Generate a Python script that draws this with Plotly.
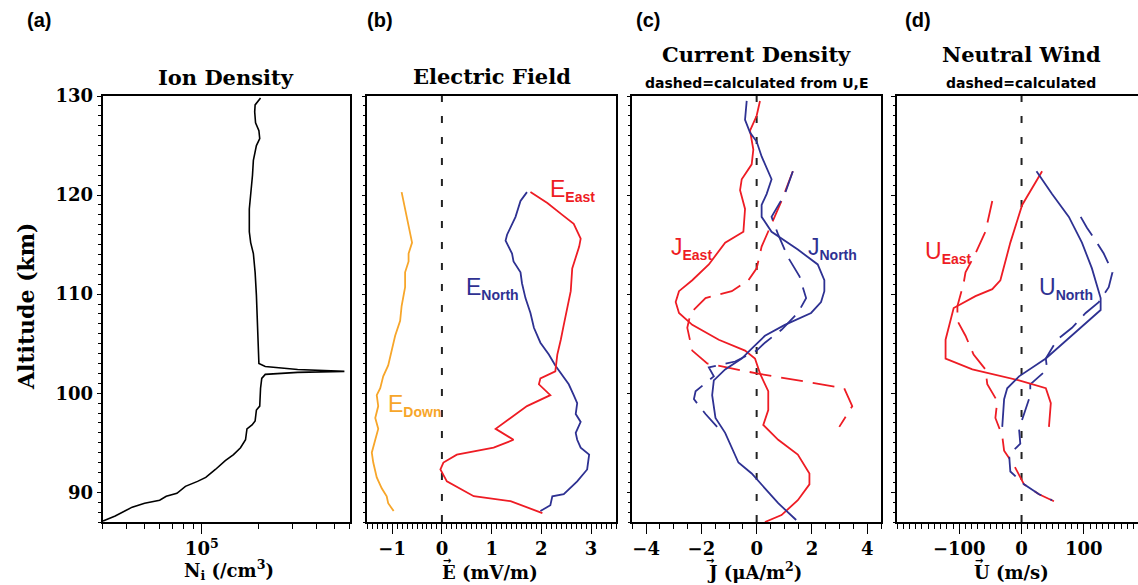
import plotly.graph_objects as go

# ---------------- DATA ----------------
# (a) Ion density
ni_alt = [129.8, 129.1, 128.4, 127.3, 126.5, 125.7, 125.0, 124.2, 123.5, 122.0, 120.1, 118.6, 116.3,
          115.2, 114.1, 112.2, 109.9, 105.8, 103.0, 102.7, 102.4, 102.2, 102.1, 101.9, 101.5, 100.5,
          98.7, 98.3, 97.2, 96.8, 96.4, 95.3, 94.5, 93.8, 93.2, 92.3, 91.5, 91.1, 90.6, 89.9, 89.6,
          89.2, 88.9, 88.5, 88.0, 87.6, 87.1]
ni_val = [2.04e5, 1.91e5, 1.90e5, 1.92e5, 2.00e5, 2.02e5, 1.94e5, 1.91e5, 1.87e5, 1.85e5, 1.81e5, 1.78e5, 1.78e5,
          1.81e5, 1.87e5, 1.91e5, 1.94e5, 1.98e5, 2.00e5, 2.16e5, 3.2e5, 5.64e5, 3.2e5, 2.16e5, 2.07e5, 2.04e5,
          2.02e5, 1.94e5, 1.91e5, 1.84e5, 1.73e5, 1.70e5, 1.60e5, 1.47e5, 1.33e5, 1.18e5, 1.05e5, 9.5e4, 8.2e4, 7.4e4, 6.5e4,
          6.0e4, 5.0e4, 4.3e4, 3.85e4, 3.5e4, 3.02e4]

# (b) Electric field (mV/m)
edown_alt = [120.3, 118.6, 116.7, 115.2, 114.1, 113.3, 112.2, 110.7, 108.8, 107.3, 105.8, 104.3, 102.8, 101.7,
             100.5, 99.8, 98.7, 97.5, 96.4, 95.3, 94.0, 93.0, 91.5, 90.4, 89.6, 88.9, 88.1]
edown_val = [-0.81, -0.74, -0.67, -0.60, -0.67, -0.67, -0.74, -0.74, -0.81, -0.84, -0.94, -1.01, -1.08, -1.18,
             -1.24, -1.31, -1.28, -1.34, -1.28, -1.34, -1.41, -1.38, -1.31, -1.21, -1.11, -1.08, -0.97]
enorth_alt = [120.3, 119.4, 117.8, 116.0, 115.4, 114.1, 113.3, 112.2, 111.1, 109.6, 108.1, 106.6, 105.1, 103.9,
              102.8, 102.0, 100.9, 99.8, 99.0, 97.9, 97.1, 96.0, 95.3, 94.5, 93.8, 92.3, 91.1, 89.8, 89.6, 88.7, 88.1]
enorth_val = [1.71, 1.58, 1.48, 1.31, 1.28, 1.41, 1.44, 1.58, 1.61, 1.68, 1.78, 1.85, 1.98, 2.15,
              2.28, 2.39, 2.55, 2.65, 2.72, 2.69, 2.79, 2.69, 2.72, 2.79, 2.96, 2.92, 2.72, 2.45, 2.22, 2.18, 1.98]
eeast_alt = [120.3, 119.2, 118.0, 117.1, 115.6, 114.8, 113.7, 112.6, 110.3, 108.4, 106.9, 105.4, 103.9, 102.2,
             101.5, 100.9, 99.8, 98.7, 97.5, 96.4, 95.3, 94.5, 93.8, 93.0, 92.3, 91.1, 89.6, 89.1, 87.9]
eeast_val = [1.78, 2.12, 2.42, 2.65, 2.79, 2.76, 2.69, 2.62, 2.59, 2.52, 2.45, 2.39, 2.32, 2.28,
             1.98, 1.95, 2.18, 1.71, 1.38, 1.08, 1.44, 1.04, 0.30, 0.03, -0.03, 0.10, 0.64, 1.38, 2.02]

# (c) Current density (uA/m^2)
jeast_alt = [129.5, 128.0, 126.5, 124.6, 123.1, 121.6, 120.5, 118.6, 116.3, 115.2, 113.0, 111.4, 110.3, 109.2,
             108.1, 106.9, 105.4, 104.3, 103.5, 102.0, 100.2, 98.3, 96.8, 95.3, 93.8, 91.9, 90.8, 89.2, 87.7, 87.0]
jeast_val = [0.12, 0.0, -0.24, -0.12, -0.18, -0.54, -0.60, -0.42, -0.48, -1.14, -1.73, -2.33, -2.81, -2.93,
             -2.81, -2.33, -1.37, -0.42, -0.06, 0.12, 0.42, 0.42, 0.24, 0.78, 1.49, 1.91, 1.91, 1.49, 0.90, 0.30]
jnorth_alt = [129.5, 127.6, 126.3, 125.4, 123.9, 122.4, 121.6, 120.1, 119.0, 117.8, 116.3, 114.5, 113.0, 111.4,
              110.3, 109.2, 108.1, 106.9, 105.8, 104.5, 103.5, 102.4, 101.3, 99.8, 97.5, 96.0, 94.5, 93.0, 91.9,
              90.8, 88.9, 87.2]
jnorth_val = [-0.36, -0.42, -0.24, 0.0, 0.18, 0.42, 0.54, 0.36, 0.18, 0.18, 0.54, 1.49, 2.21, 2.45,
              2.45, 2.33, 1.97, 1.02, 0.30, -0.18, -0.54, -1.14, -1.55, -1.61, -1.49, -1.14, -0.90, -0.66, -0.18,
              0.18, 0.78, 1.43]
jeast_calc_alt = [122.4, 119.4, 117.1, 114.8, 112.6, 111.4, 110.3, 109.6, 108.1, 106.6, 104.3, 103.0, 102.0,
                  100.5, 98.7, 96.6]
jeast_calc_val = [1.31, 0.90, 0.54, 0.18, 0.0, -0.30, -0.90, -1.85, -2.39, -2.51, -2.33, -1.79, 0.0,
                  3.17, 3.46, 2.99]
jnorth_calc_alt = [122.4, 120.1, 117.8, 116.0, 113.7, 111.8, 109.6, 108.1, 106.4, 105.1, 104.3, 103.2, 102.6,
                   101.7, 100.2, 99.4, 97.9, 96.6]
jnorth_calc_val = [1.31, 1.02, 0.54, 0.78, 1.14, 1.55, 1.79, 1.49, 0.90, 0.30, 0.0, -0.78, -1.73,
                   -1.55, -2.21, -2.27, -1.85, -1.43]

# (d) Neutral wind (m/s)
ueast_alt = [122.4, 119.0, 115.2, 111.4, 110.5, 109.8, 108.6, 105.4, 103.5, 102.4, 101.3, 100.5, 99.0, 96.6]
ueast_val = [33, 1, -18, -34, -47, -74, -109, -122, -122, -79, -4, 39, 47, 44]
unorth_alt = [122.4, 120.1, 117.8, 115.2, 112.6, 109.6, 108.4, 105.8, 103.5, 101.7, 100.5, 99.4, 96.6]
unorth_val = [24, 49, 76, 97, 113, 127, 127, 81, 39, -4, -23, -28, -31]
ueast_calc_alt = [119.4, 116.3, 114.1, 112.2, 111.1, 108.8, 107.3, 105.8, 103.9, 102.4, 100.9, 99.2, 97.5,
                  95.7, 94.2, 92.7, 90.8, 89.8, 89.1]
ueast_calc_val = [-47, -58, -74, -90, -93, -103, -103, -90, -77, -58, -55, -39, -42,
                  -31, -28, -12, 4, 28, 52]
unorth_calc_alt = [117.8, 116.7, 115.2, 114.1, 112.2, 110.7, 109.2, 108.1, 106.6, 105.4, 103.5, 102.4, 100.9,
                   99.8, 97.9, 96.4, 94.9, 93.8, 92.1, 90.8, 89.8, 89.2]
unorth_calc_val = [95, 105, 121, 132, 146, 140, 124, 103, 81, 57, 39, 41, 14,
                   14, 4, -4, -2, -20, -18, 4, 28, 49]

zero_line_alt = [87, 130]
zero_line_val = [0, 0]

# tick labels
alt_ticks = [90, 100, 110, 120, 130]
ni_ticks = [1e5]
ni_ticktext = ["10<sup>5</sup>"]
ni_minor = [3e4, 4e4, 5e4, 6e4, 7e4, 8e4, 9e4, 2e5, 3e5, 4e5, 5e5, 6e5]
e_ticks = [-1, 0, 1, 2, 3]
j_ticks = [-4, -2, 0, 2, 4]
u_ticks = [-100, 0, 100]

# ---------------- STYLE ----------------
RED = "#EE1C24"
BLUE = "#2E3192"
ORANGE = "#F7A62A"
W = 1138
H = 585
SERIF = "DejaVu Serif"
SANS = "Liberation Sans"

fig = go.Figure()

def line(x, y, color, xa, ya, dash="solid", width=1.8):
    fig.add_trace(go.Scatter(x=x, y=y, mode="lines", xaxis=xa, yaxis=ya,
                             line=dict(color=color, width=width, dash=dash),
                             showlegend=False, hoverinfo="skip"))

line(ni_val, ni_alt, "black", "x", "y", width=1.6)

line(zero_line_val, zero_line_alt, "#222222", "x2", "y2", dash="7px,14px", width=2)
line(edown_val, edown_alt, ORANGE, "x2", "y2")
line(enorth_val, enorth_alt, BLUE, "x2", "y2")
line(eeast_val, eeast_alt, RED, "x2", "y2")

line(zero_line_val, zero_line_alt, "#222222", "x3", "y3", dash="7px,14px", width=2)
line(jeast_calc_val, jeast_calc_alt, RED, "x3", "y3", dash="22px,10px")
line(jnorth_calc_val, jnorth_calc_alt, BLUE, "x3", "y3", dash="22px,10px")
line(jeast_val, jeast_alt, RED, "x3", "y3")
line(jnorth_val, jnorth_alt, BLUE, "x3", "y3")

line(zero_line_val, zero_line_alt, "#222222", "x4", "y4", dash="7px,14px", width=2)
line(ueast_calc_val, ueast_calc_alt, RED, "x4", "y4", dash="22px,10px")
line(unorth_calc_val, unorth_calc_alt, BLUE, "x4", "y4", dash="22px,10px")
line(ueast_val, ueast_alt, RED, "x4", "y4")
line(unorth_val, unorth_alt, BLUE, "x4", "y4")

px_ = lambda p: p / W
py_ = lambda p: 1 - p / H
ydom = [py_(522), py_(96)]
xdoms = [[px_(102.5), px_(349.5)], [px_(367.3), px_(616)], [px_(632.3), px_(881)], [px_(897), 1.0]]

tickfont = dict(family=SERIF, size=18, color="black", weight="bold")
common_x = dict(showline=True, linecolor="black", linewidth=1.6, mirror=True, ticks="outside",
                ticklen=10, tickwidth=1.4, tickcolor="black", showgrid=False, zeroline=False,
                tickfont=tickfont, automargin=False)
common_y = dict(showline=True, linecolor="black", linewidth=1.6, mirror=True, ticks="outside",
                ticklen=4, tickwidth=1.4, tickcolor="black", showgrid=False, zeroline=False,
                range=[87, 130], tickvals=alt_ticks, tickfont=tickfont, automargin=False,
                minor=dict(dtick=1, tick0=0, ticklen=2.5, tickwidth=1, tickcolor="black", ticks="outside"),
                domain=ydom)

layout = dict(template="none", width=W, height=H, margin=dict(l=0, r=0, t=0, b=0, autoexpand=False),
              plot_bgcolor="white", paper_bgcolor="white", showlegend=False)

layout["xaxis"] = dict(common_x, domain=xdoms[0], anchor="y", type="log",
                       range=[4.4771, 5.7782], tickvals=ni_ticks, ticktext=ni_ticktext,
                       minor=dict(tickvals=ni_minor, ticklen=5, tickwidth=1.2, tickcolor="black", ticks="outside"))
layout["xaxis2"] = dict(common_x, domain=xdoms[1], anchor="y2", range=[-1.5, 3.5], tickvals=e_ticks,
                        minor=dict(dtick=0.1, tick0=0, ticklen=5, tickwidth=1.2, tickcolor="black", ticks="outside"))
layout["xaxis3"] = dict(common_x, domain=xdoms[2], anchor="y3", range=[-4.5, 4.5], tickvals=j_ticks,
                        minor=dict(dtick=0.5, tick0=0, ticklen=5, tickwidth=1.2, tickcolor="black", ticks="outside"))
layout["xaxis4"] = dict(common_x, domain=xdoms[3], anchor="y4", range=[-200, 187], tickvals=u_ticks,
                        minor=dict(dtick=10, tick0=0, ticklen=5, tickwidth=1.2, tickcolor="black", ticks="outside"))
layout["yaxis"] = dict(common_y, anchor="x", showticklabels=True)
layout["yaxis2"] = dict(common_y, anchor="x2", showticklabels=False)
layout["yaxis3"] = dict(common_y, anchor="x3", showticklabels=False)
layout["yaxis4"] = dict(common_y, anchor="x4", showticklabels=False, mirror=False)

ann = []
def pa(text, x, y, size, family=SERIF, bold=True, textangle=0, color="black", xanchor="center"):
    ann.append(dict(text=text, x=px_(x), y=py_(y), xref="paper", yref="paper",
                    xanchor=xanchor, yanchor="middle", showarrow=False, textangle=textangle,
                    font=dict(family=family, size=size, color=color, weight="bold" if bold else "normal")))

# panel letters
pa("(a)", 39, 20, 20, family=SANS)
pa("(b)", 380, 20, 20, family=SANS)
pa("(c)", 648, 20, 20, family=SANS)
pa("(d)", 918, 20, 20, family=SANS)
# titles
pa("Ion Density", 226, 78, 21)
pa("Electric Field", 491.6, 77, 21)
pa("Current Density", 756.6, 54, 21)
pa("dashed=calculated from U,E", 756.6, 83, 14, family="DejaVu Sans")
pa("Neutral Wind", 1021, 54, 21)
pa("dashed=calculated", 1021, 83, 14, family="DejaVu Sans")
# axis titles
pa("Altitude (km)", 26, 307, 22, textangle=-90)
pa("N<sub>i</sub> (/cm<sup>3</sup>)", 182, 570, 18, xanchor="left")
pa("E (mV/m)", 440, 572, 18, xanchor="left")
pa("J (\u03bcA/m<sup>2</sup>)", 705, 571, 18, xanchor="left")
pa("U (m/s)", 972, 572, 18, xanchor="left")
# vector arrows above the symbols
for xa_ in (447, 710, 979):
    pa("\u2192", xa_, 560, 10, family="DejaVu Sans")

def lab(main, sub, color, xa, ya, x, y):
    ann.append(dict(text=main + "<sub><span style='font-size:14px'><b>" + sub + "</b></span></sub>",
                    x=x, y=y, xref=xa, yref=ya,
                    xanchor="left", yanchor="middle", showarrow=False,
                    font=dict(family=SANS, size=23, color=color)))

lab("E", "East", RED, "x2", "y2", 2.13, 120.5)
lab("E", "North", BLUE, "x2", "y2", 0.44, 110.6)
lab("E", "Down", ORANGE, "x2", "y2", -1.12, 98.8)
lab("J", "East", RED, "x3", "y3", -3.17, 114.6)
lab("J", "North", BLUE, "x3", "y3", 1.79, 114.6)
lab("U", "East", RED, "x4", "y4", -159, 114.2)
lab("U", "North", BLUE, "x4", "y4", 25, 110.6)

layout["annotations"] = ann
fig.update_layout(**layout)
fig.write_html("out.html", config={"displayModeBar": False},
               post_script="document.body.style.margin='0';document.body.style.overflow='hidden';")
